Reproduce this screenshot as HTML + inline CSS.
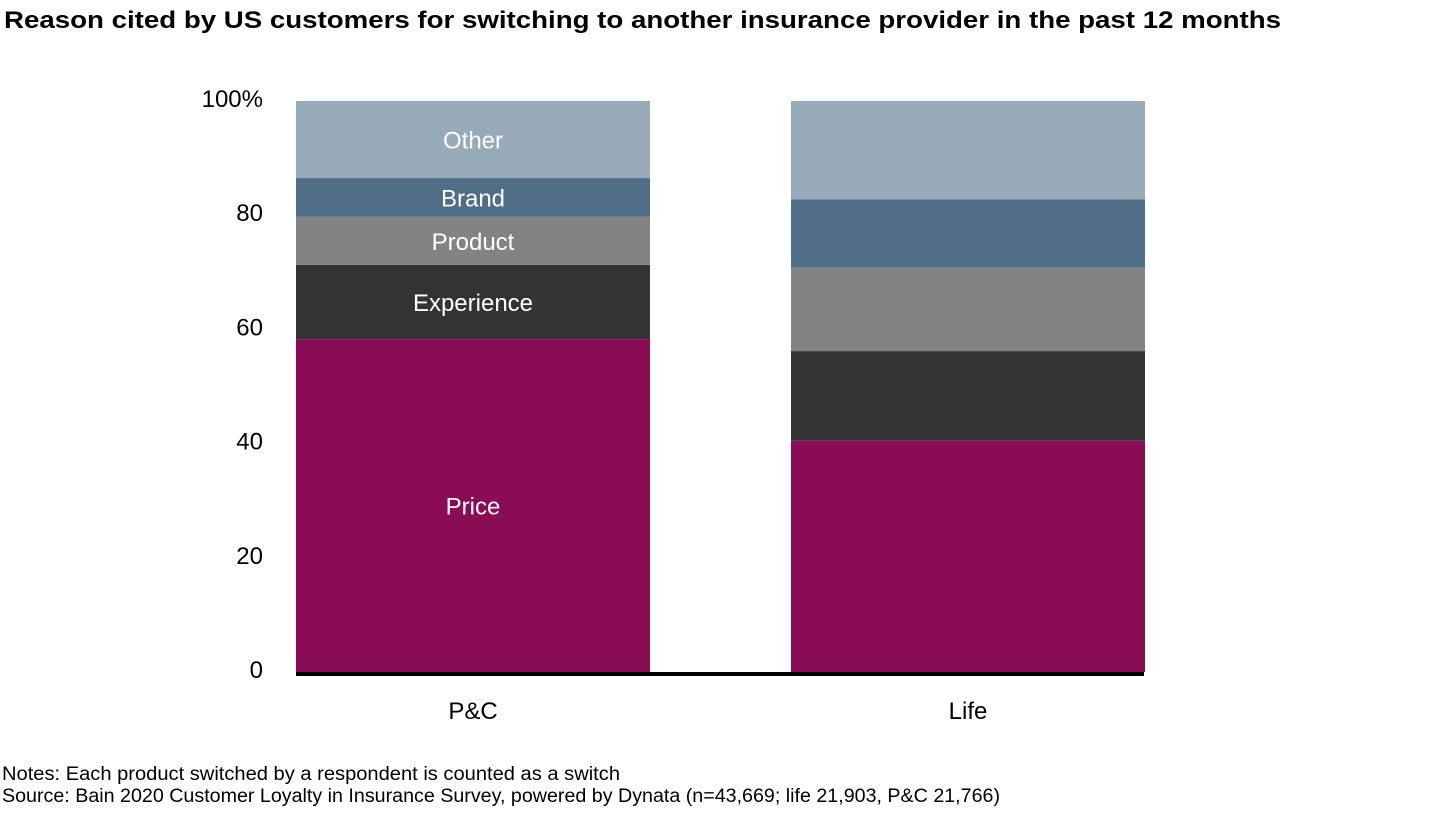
<!DOCTYPE html>
<html><head><meta charset="utf-8"><style>
body{margin:0;background:#fff;width:1440px;height:810px;overflow:hidden;font-family:"Liberation Sans",Arial,sans-serif}
</style></head><body>
<svg width="1440" height="810" xmlns="http://www.w3.org/2000/svg" font-family="Liberation Sans, Arial, sans-serif">
<text x="4" y="28" font-size="24" font-weight="bold" fill="#000" textLength="1277" lengthAdjust="spacingAndGlyphs">Reason cited by US customers for switching to another insurance provider in the past 12 months</text>
<g id="yaxis"></g>
<g id="bars"></g>
<text x="2" y="780" font-size="19" fill="#000" textLength="618" lengthAdjust="spacingAndGlyphs">Notes: Each product switched by a respondent is counted as a switch</text>
<text x="2" y="802" font-size="19" fill="#000" textLength="998" lengthAdjust="spacingAndGlyphs">Source: Bain 2020 Customer Loyalty in Insurance Survey, powered by Dynata (n=43,669; life 21,903, P&amp;C 21,766)</text>
</svg>
<script>
const categories=["P&C","Life"];
const seriesNames=["Price","Experience","Product","Brand","Other"];
const seriesColors=["#8a0c55","#333333","#838383","#506e87","#97aab8"];
const pcValues=[58.3,13.0,8.4,6.8,13.5];
const lifeValues=[40.5,15.7,14.6,12.0,17.2];
const tickValues=[0,20,40,60,80,100];
const tickLabels=["0","20","40","60","80","100%"];
const showLabels=[true,false];
const values=[pcValues,lifeValues];
const NS="http://www.w3.org/2000/svg";
const y0=672,y1=101;
const y=v=>y0-(v/100)*(y0-y1);
const barX=[296,791],barW=354;
const bars=document.getElementById('bars'),yax=document.getElementById('yaxis');
function mk(t,a,p){const e=document.createElementNS(NS,t);for(const k in a)e.setAttribute(k,a[k]);p.appendChild(e);return e;}
tickValues.forEach((v,i)=>{const t=mk('text',{x:263,y:y(v)+6,'font-size':24,'text-anchor':'end',fill:'#000'},yax);


t.textContent=tickLabels[i];});
categories.forEach((c,ci)=>{let cum=0;
values[ci].forEach((v,si)=>{const top=y(cum+v),bot=y(cum);
const r=mk('rect',{x:barX[ci],y:top,width:barW,height:bot-top,fill:seriesColors[si]},bars);


if(showLabels[ci]){const t=mk('text',{x:barX[ci]+barW/2,y:(top+bot)/2+9,'font-size':24,'text-anchor':'middle',fill:'#fff'},bars);


t.textContent=seriesNames[si];}
cum+=v;});
const l=mk('text',{x:barX[ci]+barW/2,y:719,'font-size':24,'text-anchor':'middle',fill:'#000'},bars);


l.textContent=c;});
const base=mk('rect',{x:296,y:y0,width:848,height:4,fill:'#000'},bars);


</script>
</body></html>
